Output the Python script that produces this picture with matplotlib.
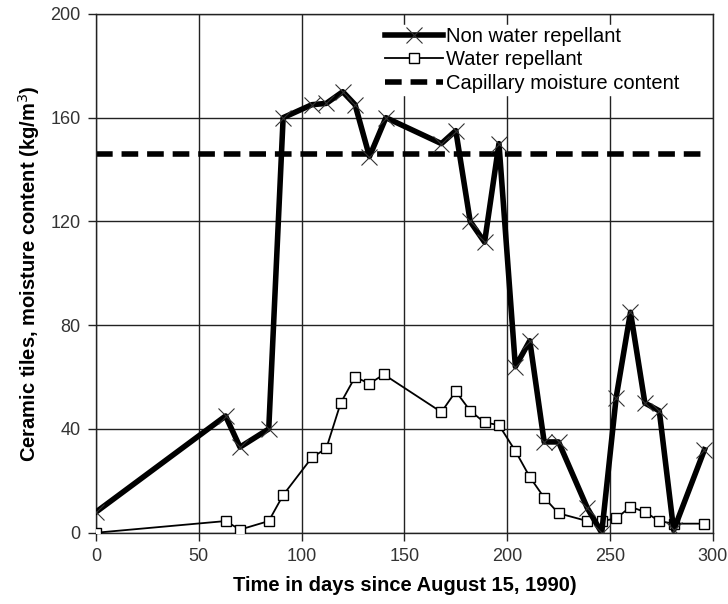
import numpy as np
import matplotlib.pyplot as plt

plt.rcParams['font.family'] = ['Liberation Sans', 'DejaVu Sans']

# Non water repellant (x markers)
days_nwr = [0, 63, 70, 84, 91, 105, 112, 120, 126, 133, 141, 168, 175, 182, 189, 196,
            204, 211, 218, 225, 239, 246, 253, 260, 267, 274, 281, 296]
mc_nwr = [8, 45, 33, 40, 160, 165, 165.5, 170, 165, 145, 160, 150, 155, 120, 112, 150,
          64, 74, 35, 35, 9.5, 0, 52, 85, 50, 47, 1, 32]

# Water repellant (square markers)
days_wr = [0, 63, 70, 84, 91, 105, 112, 119, 126, 133, 140, 168, 175, 182, 189, 196,
           204, 211, 218, 225, 239, 246, 253, 260, 267, 274, 281, 296]
mc_wr = [0, 4.5, 1.2, 4.5, 14.5, 29, 32.5, 50, 60, 57.5, 61, 46.5, 54.5, 47, 42.5, 41.5,
         31.5, 21.5, 13.5, 7.5, 4.5, 4.5, 5.5, 10, 8, 4.5, 3.5, 3.5]

# Capillary moisture content
days_cap = [0, 296]
mc_cap = [146, 146]

fig = plt.figure(figsize=(7.28, 6.04), dpi=100)
ax = fig.add_axes([0.132, 0.118, 0.847, 0.859])

ax.plot(days_nwr, mc_nwr, color='black', lw=4, marker='x', ms=12, mew=0.8,
        mec='#333333', label='Non water repellant', zorder=4)
ax.plot(days_wr, mc_wr, color='black', lw=1.3, marker='s', ms=7, mew=1.0,
        mfc='white', mec='black', label='Water repellant', zorder=3)
ax.plot(days_cap, mc_cap, color='black', lw=4, ls=(0, (3, 1.6)),
        label='Capillary moisture content', zorder=2)

ax.set_xlim(0, 300)
ax.set_ylim(0, 200)
ax.set_xticks(np.arange(0, 301, 50))
ax.set_yticks(np.arange(0, 201, 40))
ax.grid(True, color='#222222', lw=1.0)
ax.set_axisbelow(True)
for s in ax.spines.values():
    s.set_color('#222222')
    s.set_linewidth(1.0)
ax.tick_params(direction='out', length=6, width=1.0, color='#222222',
               labelsize=13, labelcolor='#333333', pad=5)

ax.set_xlabel('Time in days since August 15, 1990)', fontsize=14.5,
              fontweight='bold', labelpad=8)
ax.set_ylabel('Ceramic tiles, moisture content (kg/m$^3$)', fontsize=14.5,
              fontweight='bold', labelpad=6)

leg = ax.legend(loc='upper right', bbox_to_anchor=(0.966, 0.998), fontsize=14.5,
                frameon=True, fancybox=False, handlelength=2.9,
                handletextpad=0.15, labelspacing=0.22, borderpad=0.1)
leg.get_frame().set_edgecolor('white')
leg.get_frame().set_facecolor('white')
leg.get_frame().set_alpha(1.0)

fig.savefig('out.png', dpi=100)
